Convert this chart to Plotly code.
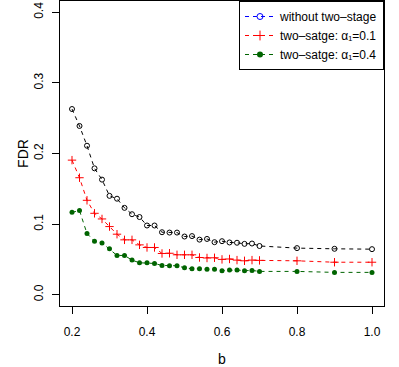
import plotly.graph_objects as go

# b values: 0.20..0.70 by 0.02, then 0.8, 0.9, 1.0
b = [0.20, 0.22, 0.24, 0.26, 0.28, 0.30, 0.32, 0.34, 0.36, 0.38,
     0.40, 0.42, 0.44, 0.46, 0.48, 0.50, 0.52, 0.54, 0.56, 0.58,
     0.60, 0.62, 0.64, 0.66, 0.68, 0.70, 0.80, 0.90, 1.00]

fdr_without = [0.263, 0.239, 0.211, 0.179, 0.163, 0.140, 0.136, 0.123, 0.114, 0.110,
               0.098, 0.098, 0.0885, 0.088, 0.088, 0.0824, 0.083, 0.078, 0.079, 0.0744,
               0.0758, 0.074, 0.0736, 0.072, 0.0725, 0.069, 0.066, 0.065, 0.0645]

fdr_a01 = [0.1906, 0.1657, 0.1337, 0.1153, 0.1073, 0.0965, 0.0857, 0.0777, 0.0777, 0.0706,
           0.0669, 0.0669, 0.0584, 0.0587, 0.0565, 0.0565, 0.0565, 0.0527, 0.052, 0.0523,
           0.050, 0.0506, 0.049, 0.048, 0.049, 0.0486, 0.048, 0.046, 0.046]

fdr_a04 = [0.1167, 0.1191, 0.0866, 0.0758, 0.0734, 0.065, 0.0556, 0.0556, 0.049, 0.0452,
           0.0452, 0.0443, 0.0414, 0.041, 0.041, 0.0381, 0.0367, 0.0367, 0.036, 0.036,
           0.034, 0.035, 0.035, 0.034, 0.0344, 0.033, 0.033, 0.0316, 0.0316]

x_ticks = [0.2, 0.4, 0.6, 0.8, 1.0]
y_ticks = [0.0, 0.1, 0.2, 0.3, 0.4]

legend_names = ["without two–stage",
                "two–satge: α₁=0.1",
                "two–satge: α₁=0.4"]

font = dict(family="Liberation Sans, Arial, sans-serif", size=12, color="black")
dash = "4px,4px"

fig = go.Figure()

# plotted series (colours as drawn)
series = [
    (fdr_without, "black", dict(symbol="circle-open", size=5, line=dict(width=1))),
    (fdr_a01, "#FF0000", dict(symbol="cross-thin-open", size=6, line=dict(width=1))),
    (fdr_a04, "#006400", dict(symbol="circle", size=5)),
]
for y, col, mk in series:
    fig.add_trace(go.Scatter(
        x=b, y=y, mode="lines+markers",
        line=dict(color=col, width=1, dash=dash),
        marker=dict(color=col, **mk),
        showlegend=False,
    ))

# legend entries (the original legend uses blue for the first series)
legend_cols = ["#0000FF", "#FF0000", "#006400"]
legend_marks = [
    dict(symbol="circle-open", size=6, line=dict(width=1)),
    dict(symbol="cross-thin-open", size=7, line=dict(width=1)),
    dict(symbol="circle", size=6),
]
for name, col, mk in zip(legend_names, legend_cols, legend_marks):
    fig.add_trace(go.Scatter(
        x=[None], y=[None], mode="lines+markers", name=name,
        line=dict(color=col, width=1, dash=dash),
        marker=dict(color=col, **mk),
    ))

fig.update_layout(
    width=399, height=367,
    margin=dict(l=60, r=15, t=1, b=61),
    paper_bgcolor="white", plot_bgcolor="white",
    font=font,
    legend=dict(
        x=1, y=1, xanchor="right", yanchor="top",
        bordercolor="black", borderwidth=1, bgcolor="white",
        font=dict(size=12), tracegroupgap=0, itemwidth=30,
    ),
)

axis_common = dict(
    showgrid=False, zeroline=False, showline=True, mirror=True,
    linecolor="black", linewidth=1, ticks="outside", ticklen=7,
    tickcolor="black", tickwidth=1, automargin=False,
)
fig.update_xaxes(
    range=[0.168, 1.032], tickvals=x_ticks,
    ticktext=[f"{v:.1f}" for v in x_ticks],
    ticklabelstandoff=8,
    title=dict(text="b", standoff=18), **axis_common,
)
fig.update_yaxes(
    range=[-0.016, 0.416], tickvals=y_ticks,
    ticktext=[f"{v:.1f}" for v in y_ticks],
    tickangle=-90, ticklabelstandoff=4,
    title=dict(text="FDR", standoff=0), **axis_common,
)

# the default page has an 8px body margin; drop it so the figure sits at 0,0
fig.write_html("out.html", config={"displayModeBar": False},
               post_script="document.body.style.margin='0';")
